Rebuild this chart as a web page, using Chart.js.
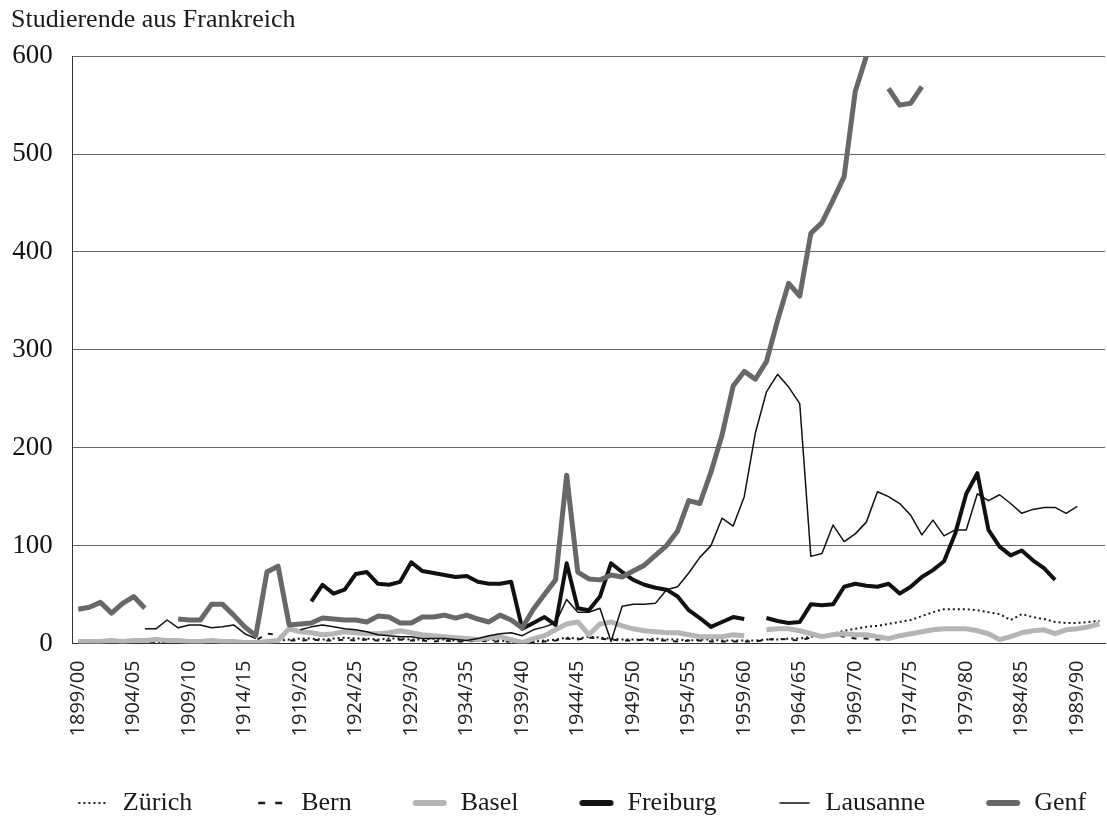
<!DOCTYPE html>
<html>
<head>
<meta charset="utf-8">
<title>Studierende aus Frankreich</title>
<script src="https://cdn.jsdelivr.net/npm/chart.js@4.4.1/dist/chart.umd.min.js"></script>
<style>
  html, body { margin: 0; padding: 0; background: #ffffff; }
  canvas { display: block; }
</style>
</head>
<body>
<canvas id="chart" width="1107" height="820"></canvas>
<script>
// Studienjahre 1899/00 - 1991/92
const semester = [
  "1899/00","1900/01","1901/02","1902/03","1903/04","1904/05","1905/06","1906/07","1907/08","1908/09",
  "1909/10","1910/11","1911/12","1912/13","1913/14","1914/15","1915/16","1916/17","1917/18","1918/19",
  "1919/20","1920/21","1921/22","1922/23","1923/24","1924/25","1925/26","1926/27","1927/28","1928/29",
  "1929/30","1930/31","1931/32","1932/33","1933/34","1934/35","1935/36","1936/37","1937/38","1938/39",
  "1939/40","1940/41","1941/42","1942/43","1943/44","1944/45","1945/46","1946/47","1947/48","1948/49",
  "1949/50","1950/51","1951/52","1952/53","1953/54","1954/55","1955/56","1956/57","1957/58","1958/59",
  "1959/60","1960/61","1961/62","1962/63","1963/64","1964/65","1965/66","1966/67","1967/68","1968/69",
  "1969/70","1970/71","1971/72","1972/73","1973/74","1974/75","1975/76","1976/77","1977/78","1978/79",
  "1979/80","1980/81","1981/82","1982/83","1983/84","1984/85","1985/86","1986/87","1987/88","1988/89",
  "1989/90","1990/91","1991/92"
];

// Studierende aus Frankreich pro Universitaet (null = keine Angabe)
const zuerich = [
  1,1,1,2,1,2,2,2,1,2, 2,1,2,2,1,1,2,2,3,
  4,5,5,4,5,6,5,5,4,5, 5,4,4,5,4,3,3,3,4,3,2,
  1,2,3,4,6,5,7,6,5,4, 4,4,5,4,4,3,4,4,3,3,3,
  3,4,4,5,5,7,8,10,13,15, 17,18,20,22,24,28,32,35,35,35, 34,32,30,24,30,27,25,22,21,21, 22,23
];
const bern = [
  0,0,1,0,1,1,2,1,1,2, 1,1,2,1,1,2,3,
  10,9,
  3,3,4,3,3,4,3,4,3,3, 4,3,3,2,3,2,2,3,2,2,2,
  1,1,2,3,5,4,6,5,4,3, 3,4,3,3,2,3,3,2,2,2,2,
  2,4,5,4,3,6,9,9,7,5, 5,4,4,
  null,null,null,null,null,null,null,null,null,null, null,null,null,null,null,null,null,null,null
];
const basel = [
  2,2,2,3,2,3,3,4,3,3, 2,2,3,2,2,1,1,2,3,
  15,12,11,9,10,12,11,10,10,11, 13,11,
  9,8,7,6,5,4,6,7,4,1,
  5,8,14,20,22,9,20,22,18,15,
  13,12,11,11,9,7,7,7,9,8,
  null,
  14,15,15,13,10,7,9,10,9,9, 7,5,8,10,12,14,15,15,15,13, 10,4,7,11,13,14,10,14,15,17, 20
];
const freiburg = [
  null,null,null,null,null,null,null,null,null,null, null,null,null,null,null,null,null,null,null,null, null,
  43,60,51,55,71,73,61,60,63,83,74,
  72,70,68,69,63,61,61,63,15,
  21,27,19,82,36,34,48,82,73,
  65,60,57,55,48,34,26,17,22,27,25,
  null,
  26,23,21,22,40,39,40,58,61,59,58,
  61,51,58,68,75,84,112,153,174,
  116,99,90,95,85,77,65,
  null,null,null,null
];
const lausanne = [
  null,null,null,null,null,null,
  15,15,24,16,19,19,16,17,19,10,5,
  null,null,null,
  14,17,19,17,15,14,12,9,8,7,7,5,
  5,5,4,3,5,8,10,11,8,14,17,21,
  45,32,32,36,2,38,40,40,41,55,
  58,72,88,100,128,120,150,215,257,275,262,245,89,
  92,121,104,112,124,155,150,143,131,111,126,110,116,116,153,146,152,143,133,137,139,139,133,140,
  null,null
];
const genf = [
  35,37,42,31,41,48,36,
  null,null,
  25,24,24,40,40,29,17,8,73,79,
  19,20,21,26,25,24,24,22,28,27,21,21,
  27,27,29,26,29,25,22,29,24,16,
  35,50,65,172,73,66,65,70,68,
  74,80,90,100,115,146,143,175,213,263,
  278,270,288,330,368,355,419,430,453,477,564,600,
  null,
  567,550,552,569,
  null,null,null,null,null,null,null,null,null,null, null,null,null,null,null,null
];

const yTicks = [0, 100, 200, 300, 400, 500, 600];

const serif = "'Liberation Serif', 'Times New Roman', serif";

// kleine Linienmuster fuer die Legende
function legendIcon(color, width, dash, len) {
  const c = document.createElement("canvas");
  c.width = 36;
  c.height = 10;
  const g = c.getContext("2d");
  g.strokeStyle = color;
  g.lineWidth = width;
  g.lineCap = dash.length ? "butt" : "round";
  g.setLineDash(dash);
  g.beginPath();
  g.moveTo(18 - len / 2, 5);
  g.lineTo(18 + len / 2, 5);
  g.stroke();
  return c;
}

function serie(label, data, color, width, dash, order, icon) {
  return {
    label: label,
    data: data,
    borderColor: color,
    backgroundColor: color,
    borderWidth: width,
    borderDash: dash,
    borderJoinStyle: "round",
    pointRadius: 0,
    pointHoverRadius: 0,
    pointStyle: icon,
    fill: false,
    tension: 0,
    spanGaps: false,
    order: order
  };
}

// Beschriftung der x-Achse nicht am Legendenrand abschneiden
const labelRoom = {
  id: "labelRoom",
  afterLayout(chart) {
    chart.scales.x.bottom = chart.height;
  }
};

new Chart(document.getElementById("chart"), {
  type: "line",
  data: {
    labels: semester,
    datasets: [
      serie("Zürich", zuerich, "#1a1a1a", 2, [2, 3], 5, legendIcon("#1a1a1a", 2, [2, 3], 27)),
      serie("Bern", bern, "#1a1a1a", 2, [5, 7], 4, legendIcon("#1a1a1a", 2.5, [7, 10], 24)),
      serie("Basel", basel, "#b5b5b5", 5, [], 3, legendIcon("#b5b5b5", 6, [], 28)),
      serie("Freiburg", freiburg, "#111111", 4, [], 2, legendIcon("#111111", 6, [], 28)),
      serie("Lausanne", lausanne, "#111111", 1.5, [], 1, legendIcon("#111111", 1.5, [], 29)),
      serie("Genf", genf, "#686868", 5, [], 0, legendIcon("#686868", 6, [], 28))
    ]
  },
  plugins: [labelRoom],
  options: {
    responsive: false,
    animation: false,
    layout: { padding: { left: 11, right: -42, top: 4, bottom: -6 } },
    plugins: {
      title: {
        display: true,
        text: "Studierende aus Frankreich",
        align: "start",
        color: "#1a1a1a",
        font: { family: serif, size: 26, weight: "normal" },
        padding: { top: 1, bottom: 20 }
      },
      legend: {
        position: "bottom",
        labels: {
          usePointStyle: true,
          pointStyleWidth: 36,
          padding: 60,
          color: "#1a1a1a",
          font: { family: serif, size: 26 },
          sort: (a, b) => a.datasetIndex - b.datasetIndex
        }
      },
      tooltip: { enabled: false }
    },
    scales: {
      x: {
        type: "category",
        offset: true,
        grid: { display: false, drawTicks: false },
        border: { color: "#333333", width: 1 },
        ticks: {
          autoSkip: false,
          minRotation: 90,
          maxRotation: 90,
          padding: 17,
          color: "#222222",
          font: { family: "'Open Sans', sans-serif", size: 20 },
          callback: function (value, index) {
            return index % 5 === 0 ? semester[index] : "";
          }
        },
        afterFit: (axis) => {
          axis.height = 86.5;
          axis.paddingLeft = 0;
          axis.paddingRight = 2;
        }
      },
      y: {
        min: yTicks[0],
        max: yTicks[yTicks.length - 1],
        afterBuildTicks: (axis) => { axis.ticks = yTicks.map(v => ({ value: v })); },
        afterFit: (axis) => { axis.width = 61.7; },
        ticks: {
          padding: 20,
          color: "#111111",
          font: { family: serif, size: 27 }
        },
        grid: { color: "#666666", lineWidth: 1, drawTicks: false },
        border: { color: "#333333", width: 1 }
      }
    }
  }
});
</script>
</body>
</html>
